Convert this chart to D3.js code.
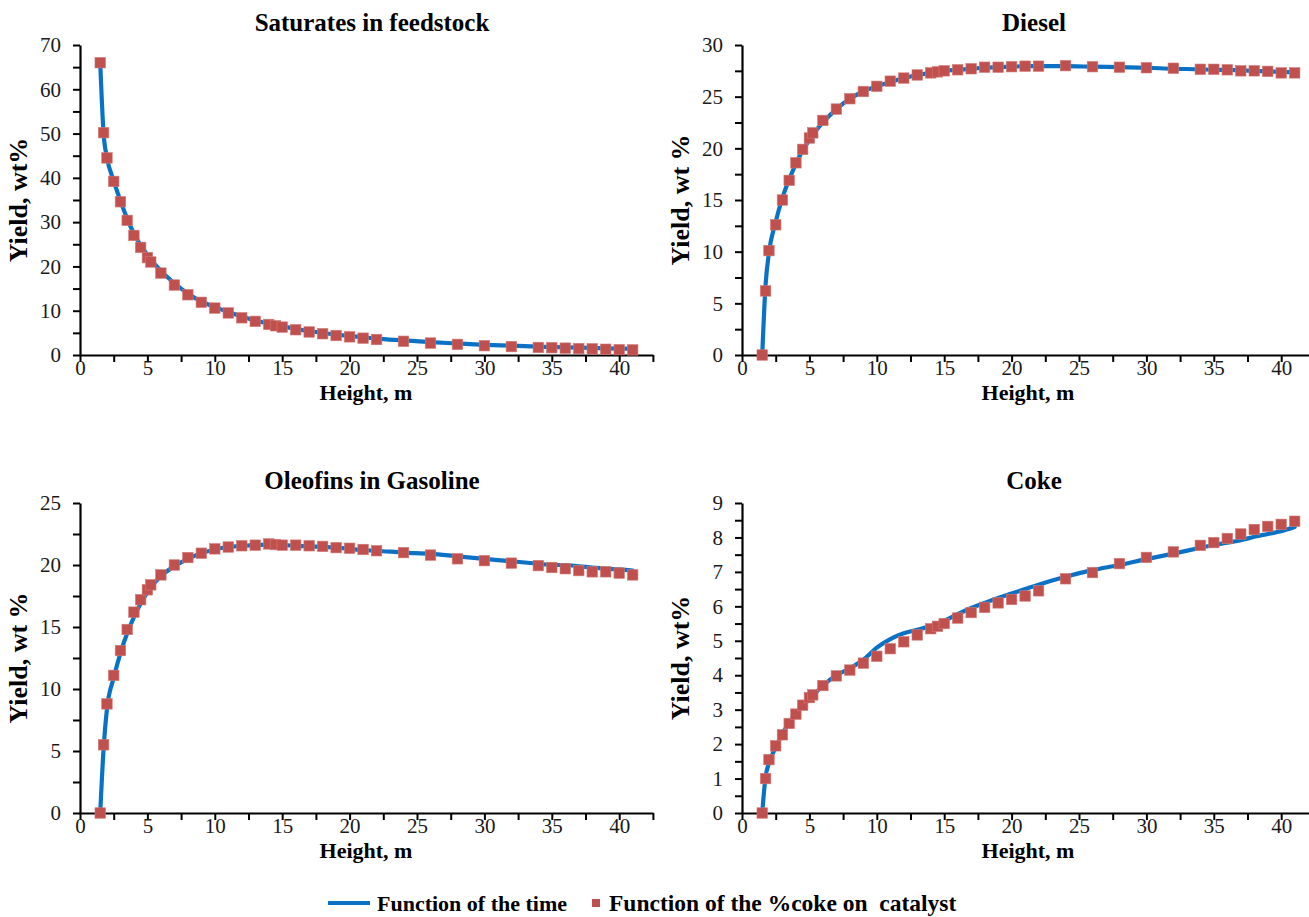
<!DOCTYPE html>
<html>
<head>
<meta charset="utf-8">
<script src="https://cdn.jsdelivr.net/npm/d3@7"></script>
<style>
  html, body { margin: 0; padding: 0; background: #fff; }
  svg { display: block; }
  svg text { font-family: 'Liberation Serif', 'Times New Roman', serif; }
</style>
</head>
<body>
<svg id="chart" width="1309" height="917"></svg>
<script>
// ---------------- DATA ----------------
const heights = [1.5, 1.75, 2, 2.5, 3, 3.5, 4, 4.5, 5, 5.25, 6, 7, 8, 9, 10, 11, 12, 13, 14, 14.5, 15,
  16, 17, 18, 19, 20, 21, 22, 24, 26, 28, 30, 32, 34, 35, 36, 37, 38, 39, 40, 41];

// Saturates in feedstock
const satCoke = [66.0, 50.2, 44.5, 39.2, 34.6, 30.4, 27.0, 24.3, 22.0, 21.0, 18.5, 15.8, 13.6, 11.9, 10.6,
  9.5, 8.4, 7.6, 6.9, 6.6, 6.3, 5.7, 5.2, 4.8, 4.4, 4.1, 3.8, 3.5, 3.1, 2.7, 2.4, 2.1, 1.9, 1.7, 1.65,
  1.55, 1.45, 1.4, 1.3, 1.2, 1.15];
const satTime = [66.0, 50.0, 44.6, 39.3, 34.8, 30.8, 27.4, 24.8, 22.6, 21.6, 19.0, 16.2, 13.9, 12.1, 10.8,
  9.7, 8.7, 7.8, 7.1, 6.8, 6.5, 5.9, 5.4, 5.0, 4.6, 4.3, 4.0, 3.7, 3.3, 2.9, 2.6, 2.3, 2.1, 1.9, 1.8,
  1.7, 1.65, 1.6, 1.5, 1.45, 1.4];

// Diesel
const dieselCoke = [0.0, 6.2, 10.1, 12.6, 15.0, 16.9, 18.6, 19.9, 21.0, 21.5, 22.7, 23.8, 24.8, 25.5, 26.0,
  26.5, 26.8, 27.1, 27.3, 27.4, 27.5, 27.6, 27.7, 27.85, 27.85, 27.9, 27.95, 27.95, 28.0, 27.9, 27.85,
  27.8, 27.75, 27.65, 27.65, 27.6, 27.5, 27.5, 27.45, 27.3, 27.3];
const dieselTime = [0.0, 6.8, 9.9, 12.9, 15.2, 17.0, 18.5, 19.8, 20.8, 21.3, 22.5, 23.8, 24.8, 25.5, 26.0,
  26.4, 26.8, 27.1, 27.3, 27.4, 27.5, 27.6, 27.7, 27.8, 27.85, 27.9, 27.95, 27.95, 27.95, 27.9, 27.85,
  27.8, 27.7, 27.65, 27.6, 27.6, 27.55, 27.5, 27.45, 27.4, 27.35];

// Oleofins in Gasoline
const olefCoke = [0.0, 5.5, 8.8, 11.1, 13.1, 14.8, 16.2, 17.2, 18.0, 18.4, 19.2, 20.0, 20.6, 20.95, 21.3,
  21.45, 21.55, 21.6, 21.7, 21.65, 21.6, 21.6, 21.55, 21.5, 21.4, 21.35, 21.25, 21.15, 21.0, 20.8, 20.5,
  20.35, 20.15, 19.95, 19.8, 19.7, 19.55, 19.45, 19.45, 19.35, 19.2];
const olefTime = [0.0, 5.2, 8.4, 10.9, 12.9, 14.5, 15.8, 16.9, 17.8, 18.2, 19.1, 19.9, 20.5, 20.95, 21.25,
  21.45, 21.55, 21.6, 21.65, 21.6, 21.6, 21.55, 21.5, 21.45, 21.4, 21.3, 21.2, 21.15, 21.0, 20.9, 20.7,
  20.5, 20.3, 20.1, 20.0, 20.0, 19.9, 19.8, 19.7, 19.65, 19.55];

// Coke
const cokeCoke = [0.0, 1.0, 1.55, 1.95, 2.27, 2.6, 2.87, 3.13, 3.35, 3.43, 3.7, 3.98, 4.15, 4.35, 4.55,
  4.77, 4.97, 5.17, 5.35, 5.42, 5.5, 5.66, 5.82, 5.97, 6.1, 6.2, 6.3, 6.45, 6.8, 6.98, 7.24, 7.42, 7.58,
  7.77, 7.85, 7.97, 8.1, 8.23, 8.32, 8.38, 8.47];
const cokeTime = [0.0, 1.05, 1.45, 1.9, 2.3, 2.62, 2.9, 3.12, 3.3, 3.4, 3.7, 4.0, 4.2, 4.45, 4.8,
  5.05, 5.22, 5.32, 5.43, 5.5, 5.58, 5.77, 5.95, 6.1, 6.24, 6.37, 6.5, 6.63, 6.86, 7.05, 7.2, 7.37,
  7.53, 7.7, 7.78, 7.85, 7.92, 8.02, 8.1, 8.18, 8.3];

const titles = ["Saturates in feedstock", "Diesel", "Oleofins in Gasoline", "Coke"];
const yLabels = ["Yield, wt%", "Yield, wt %", "Yield, wt %", "Yield, wt%"];
const xLabel = "Height, m";
const yMax = [70, 30, 25, 9];
const yMajor = [10, 5, 5, 1];
const xTicks = [0, 5, 10, 15, 20, 25, 30, 35, 40];
const legendLabels = ["Function of the time", "Function of the %coke on  catalyst"];

// ---------------- STYLE / LAYOUT ----------------
const BLUE = "#0a72c6";
const RED = "#c0504d";
const FONT = "'Liberation Serif', 'Times New Roman', serif";
const svg = d3.select("#chart");

const panels = [
  { x0: 80, y0: 355, yTop: 45, line: satTime, pts: satCoke },
  { x0: 742, y0: 355, yTop: 45, line: dieselTime, pts: dieselCoke },
  { x0: 80, y0: 813, yTop: 503, line: olefTime, pts: olefCoke },
  { x0: 742, y0: 813, yTop: 503, line: cokeTime, pts: cokeCoke }
];
const xPerUnit = 13.48;
const xDomainMax = 42.5;

panels.forEach((p, i) => {
  const x = d3.scaleLinear().domain([0, xDomainMax]).range([p.x0, p.x0 + xPerUnit * xDomainMax]);
  const y = d3.scaleLinear().domain([0, yMax[i]]).range([p.y0, p.yTop]);
  const g = svg.append("g");

  const xMinor = d3.range(0, xDomainMax + 0.001, 2.5);
  const yMinor = d3.range(0, yMax[i] + 0.001, yMajor[i] / 2);

  const xAxis = d3.axisBottom(x).tickValues(xMinor).tickSize(7).tickSizeOuter(0).tickPadding(2)
    .tickFormat(d => xTicks.includes(d) ? d : "");
  const yAxis = d3.axisLeft(y).tickValues(yMinor).tickSize(7).tickSizeOuter(0).tickPadding(12)
    .tickFormat(d => (Math.abs(d / yMajor[i] - Math.round(d / yMajor[i])) < 1e-6) ? d : "");

  const gx = g.append("g").attr("transform", `translate(0,${p.y0})`).call(xAxis);
  const gy = g.append("g").attr("transform", `translate(${p.x0},0)`).call(yAxis);
  [gx, gy].forEach(a => {
    a.attr("font-family", FONT).attr("font-size", 21);
    a.select(".domain").attr("stroke", "#000").attr("stroke-width", 2.2);
    a.selectAll(".tick line").attr("stroke", "#000").attr("stroke-width", 2);
    a.selectAll("text").style("font-family", FONT).style("font-size", "21px").attr("fill", "#1a1a1a");
  });
  gx.selectAll("text").attr("dy", "0.5em");

  // line
  const lineGen = d3.line().x((d, k) => x(heights[k])).y(d => y(d)).curve(d3.curveMonotoneX);
  g.append("path").datum(p.line).attr("d", lineGen)
    .attr("fill", "none").attr("stroke", BLUE).attr("stroke-width", 4.2)
    .attr("stroke-linejoin", "round").attr("stroke-linecap", "round");

  // markers
  const s = 10.5;
  g.selectAll("rect.pt").data(p.pts).enter().append("rect")
    .attr("class", "pt")
    .attr("x", (d, k) => x(heights[k]) - s / 2)
    .attr("y", d => y(d) - s / 2)
    .attr("width", s).attr("height", s)
    .attr("fill", RED).attr("stroke", "#d27a77").attr("stroke-width", 0.6);

  // title
  g.append("text").attr("x", p.x0 + 292).attr("y", p.yTop - 14)
    .attr("text-anchor", "middle").attr("font-weight", "bold")
    .style("font-size", "25px").text(titles[i]);
  // x label
  g.append("text").attr("x", p.x0 + 286).attr("y", p.y0 + 45)
    .attr("text-anchor", "middle").attr("font-weight", "bold")
    .style("font-size", "22px").text(xLabel);
  // y label
  g.append("text")
    .attr("transform", `translate(${p.x0 - 53},${(p.y0 + p.yTop) / 2}) rotate(-90)`)
    .attr("text-anchor", "middle").attr("font-weight", "bold")
    .style("font-size", "26px").text(yLabels[i]);
});

// ---------------- LEGEND ----------------
const lg = svg.append("g").attr("transform", "translate(0,903)");
lg.append("line").attr("x1", 328).attr("x2", 370).attr("y1", 0).attr("y2", 0)
  .attr("stroke", BLUE).attr("stroke-width", 4.2);
lg.append("text").attr("x", 377).attr("y", 8).attr("font-weight", "bold")
  .style("font-size", "22px").text(legendLabels[0]);
lg.append("rect").attr("x", 592).attr("y", -4).attr("width", 8).attr("height", 8).attr("fill", RED);
lg.append("text").attr("x", 609).attr("y", 8).attr("font-weight", "bold")
  .style("font-size", "23.5px").style("white-space", "pre").text(legendLabels[1]);
</script>
</body>
</html>
